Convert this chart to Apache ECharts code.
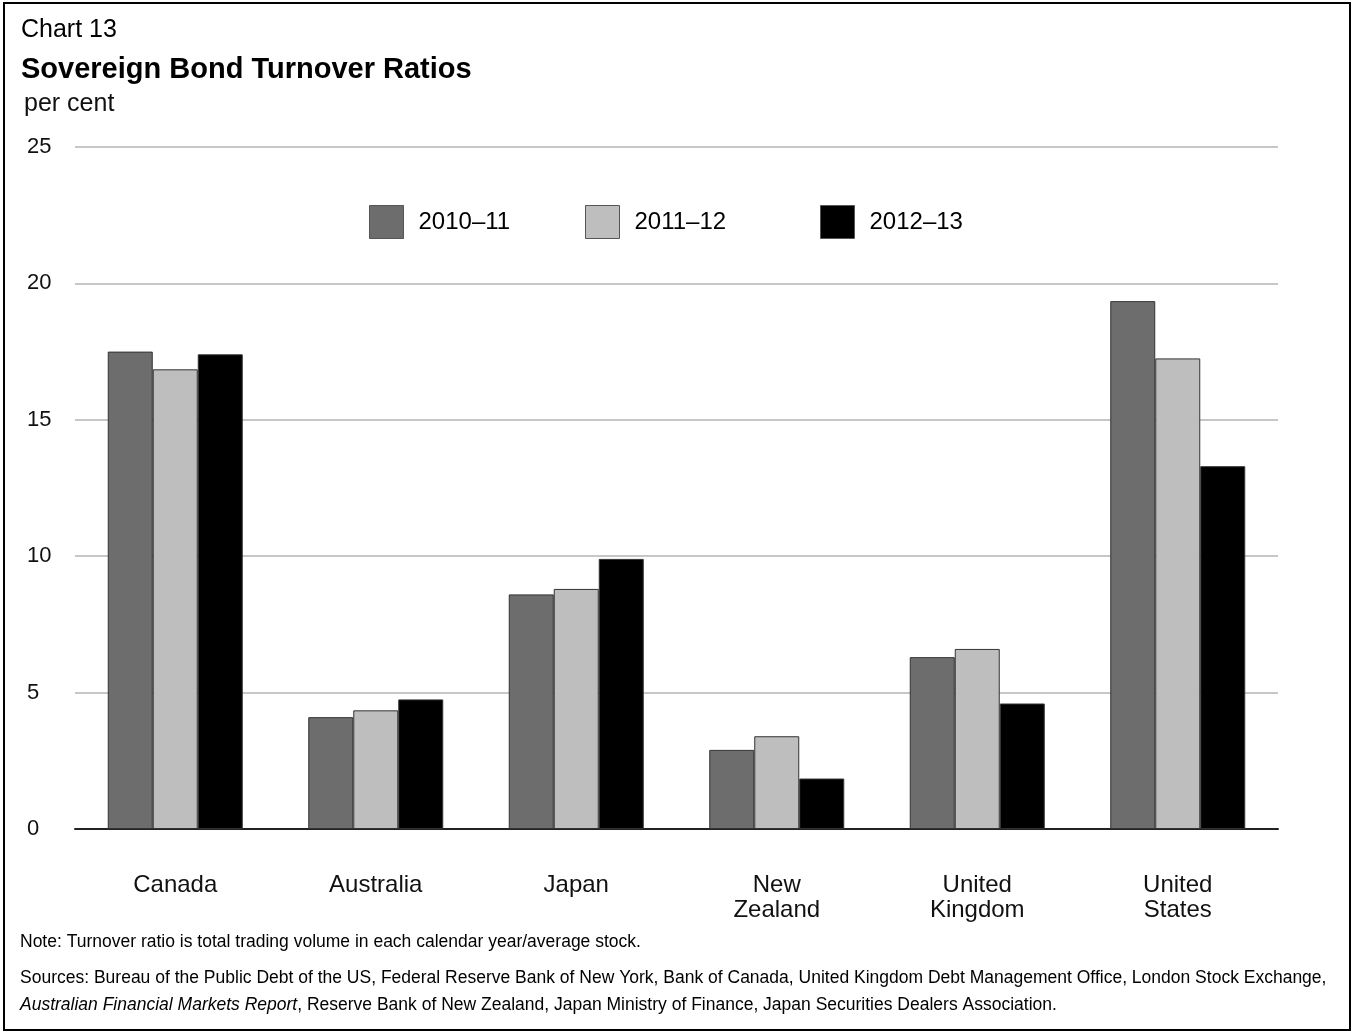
<!DOCTYPE html>
<html>
<head>
<meta charset="utf-8">
<script src="https://cdn.jsdelivr.net/npm/echarts@6/dist/echarts.min.js"></script>
<style>
  html, body { margin: 0; padding: 0; background: #fff; }
  #main { width: 1355px; height: 1034px; }
</style>
</head>
<body>
<div id="main"></div>
<script>
// data
const countries = ["Canada", "Australia", "Japan", "New\nZealand", "United\nKingdom", "United\nStates"];
const years = ["2010\u201311", "2011\u201312", "2012\u201313"];
const fy1011 = [17.5, 4.1, 8.6, 2.9, 6.3, 19.35];
const fy1112 = [16.85, 4.35, 8.8, 3.4, 6.6, 17.25];
const fy1213 = [17.4, 4.75, 9.9, 1.85, 4.6, 13.3];
const barColors = ["#6d6d6d", "#bebebe", "#000000"];
const legendLeft = [369, 585, 820];

const FONT = "Liberation Sans, Arial, Helvetica, sans-serif";

const chart = echarts.init(document.getElementById("main"));

const mkSeries = (name, data, i) => ({
  name: name,
  type: "bar",
  data: data,
  barWidth: 45,
  barGap: "0%",
  itemStyle: { color: barColors[i], borderColor: "#333", borderWidth: 1 },
  emphasis: { disabled: true },
});

// one legend per item, the reference spaces them unevenly
const legends = years.map((y, i) => ({
  top: 205,
  left: legendLeft[i],
  padding: 0,
  itemWidth: 34,
  itemHeight: 33,
  icon: "rect",
  selectedMode: false,
  textStyle: { fontFamily: FONT, fontSize: 24, color: "#000", padding: [0, 0, 0, 10] },
  itemStyle: { borderColor: "#555", borderWidth: 1 },
  data: [y],
}));

const option = {
  animation: false,
  backgroundColor: "#fff",
  grid: { left: 75, right: 77, top: 147, bottom: 205 },
  legend: legends,
  xAxis: {
    type: "category",
    data: countries,
    axisLine: { lineStyle: { color: "#222", width: 2 } },
    axisTick: { show: false },
    axisLabel: {
      margin: 44,
      fontFamily: FONT,
      fontSize: 24,
      color: "#111",
      lineHeight: 25,
    },
  },
  yAxis: {
    type: "value",
    min: 0,
    max: 25,
    interval: 5,
    axisLine: { show: false },
    axisTick: { show: false },
    splitLine: { lineStyle: { color: "#b4b4b4", width: 1.5 } },
    axisLabel: {
      align: "left",
      margin: 48,
      fontFamily: FONT,
      fontSize: 22,
      color: "#111",
    },
  },
  series: [
    mkSeries(years[0], fy1011, 0),
    mkSeries(years[1], fy1112, 1),
    mkSeries(years[2], fy1213, 2),
  ],
  graphic: [
    {
      type: "rect",
      shape: { x: 4, y: 3, width: 1346, height: 1027 },
      style: { fill: "none", stroke: "#000", lineWidth: 2 },
      silent: true,
    },
    {
      type: "text", left: 21, top: 18,
      style: { text: "Chart 13", font: "25px " + FONT, fill: "#000" },
    },
    {
      type: "text", left: 21, top: 55,
      style: { text: "Sovereign Bond Turnover Ratios", font: "bold 29px " + FONT, fill: "#000" },
    },
    {
      type: "text", left: 24, top: 92,
      style: { text: "per cent", font: "25px " + FONT, fill: "#111" },
    },
    {
      type: "text", left: 20, top: 933,
      style: { text: "Note: Turnover ratio is total trading volume in each calendar year/average stock.", font: "17.5px " + FONT, fill: "#000" },
    },
    {
      type: "text", left: 20, top: 969,
      style: { text: "Sources: Bureau of the Public Debt of the US, Federal Reserve Bank of New York, Bank of Canada, United Kingdom Debt Management Office, London Stock Exchange,", font: "17.5px " + FONT, fill: "#000" },
    },
    {
      type: "text", left: 20, top: 996,
      style: {
        text: "{i|Australian Financial Markets Report}, Reserve Bank of New Zealand, Japan Ministry of Finance, Japan Securities Dealers Association.",
        font: "17.5px " + FONT, fill: "#000",
        rich: { i: { fontStyle: "italic", fontFamily: FONT, fontSize: 17.5, fill: "#000" } },
      },
    },
  ],
};

chart.setOption(option);
</script>
</body>
</html>
